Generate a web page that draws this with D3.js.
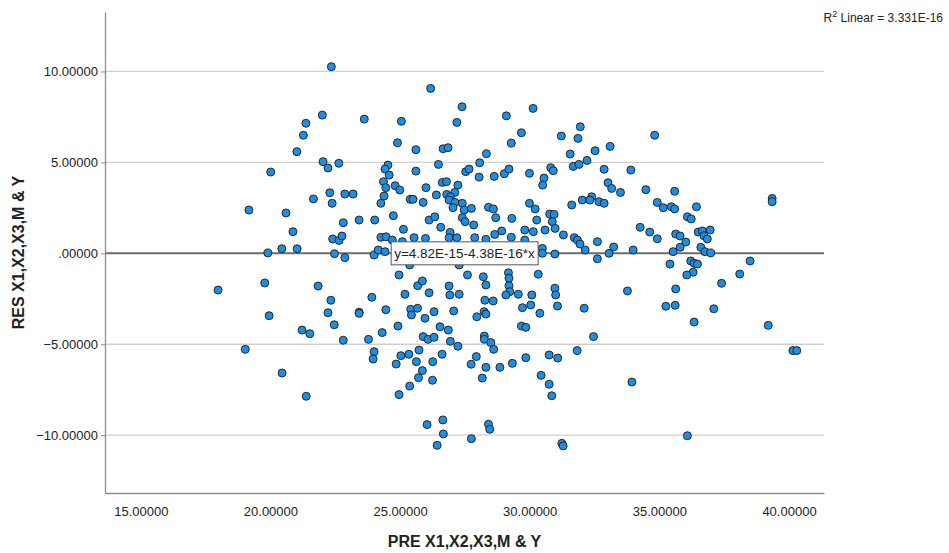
<!DOCTYPE html>
<html><head><meta charset="utf-8">
<script src="https://cdn.jsdelivr.net/npm/d3@7"></script>
<style>body{margin:0;background:#fff;} svg{display:block;font-family:"Liberation Sans",Arial,sans-serif;}</style>
</head><body><svg id="c" width="949" height="553"></svg>
<script>
const predicted = [
22.35,22.00,21.37,21.27,21.02,22.03,22.22,22.64,20.01,22.29,22.87,
23.62,26.18,27.39,25.05,27.19,24.90,25.61,26.66,26.85,29.10,
30.13,29.68,29.29,31.22,31.95,31.86,31.56,32.52,24.53,24.42,
24.58,24.36,24.45,24.38,24.81,24.99,23.19,25.61,26.00,26.48,
26.63,26.79,27.23,27.11,26.40,26.80,26.94,27.53,27.66,28.07,
28.33,28.05,28.63,29.02,29.20,29.99,30.81,30.91,30.55,30.50,
31.68,31.90,32.21,32.39,
33.10,34.82,32.87,33.90,33.02,33.16,33.50,34.48,35.59,
19.17,20.60,20.87,20.44,21.03,19.90,19.78,17.98,21.84,22.33,
22.22,21.66,22.38,22.81,22.40,22.65,22.76,22.47,22.87,
19.95,19.03,20.45,21.38,21.22,21.52,22.46,22.81,
24.26,25.39,25.50,25.89,26.89,27.12,27.40,29.99,30.21,31.62,
32.03,32.32,23.42,24.02,24.74,26.12,26.34,27.04,27.47,27.75,
28.41,28.60,28.69,29.31,30.27,30.77,30.94,30.87,27.40,27.51,
27.84,26.57,26.93,25.13,28.92,28.65,29.81,30.14,30.59,30.98,
31.30,31.72,31.84,31.94,32.14,24.26,24.46,24.70,25.09,25.54,
25.98,26.89,27.19,27.88,28.31,29.29,29.81,24.00,24.16,24.42,
30.49,30.49,30.97,
25.37,24.96,25.68,25.86,25.19,26.12,26.89,26.92,27.28,27.28,
27.60,28.21,28.31,29.18,29.20,29.20,29.23,29.08,29.56,30.08,
30.33,30.97,31.00,31.07,30.04,29.72,28.27,28.59,23.91,24.45,
23.42,25.41,26.31,25.67,32.10,
39.35,39.35,32.67,32.87,34.92,35.15,35.46,35.59,36.43,36.08,
36.23,34.26,34.63,34.92,35.63,35.80,36.02,35.80,35.53,36.50,
36.66,36.96,36.72,36.85,36.60,36.76,36.98,32.61,33.24,33.06,
33.99,32.61,35.41,36.21,36.34,36.47,38.50,36.30,36.06,38.10,
37.40,35.63,33.77,35.25,35.61,37.10,
23.42,25.44,25.96,27.07,27.96,28.24,28.31,30.39,24.92,24.31,
23.78,25.89,26.08,26.31,26.54,26.86,26.94,27.23,28.25,28.25,
28.50,28.61,29.68,29.85,32.46,24.00,23.96,25.03,25.34,24.85,
25.73,25.63,26.26,26.62,25.86,25.71,26.25,25.37,24.96,27.94,
27.74,28.31,28.85,29.33,29.85,28.17,30.75,31.08,31.83,30.44,
30.75,30.85,26.04,26.65,26.67,26.43,27.75,28.41,28.46,31.24,
31.29,
36.34,39.20,40.15,40.30,33.94,36.08
];
const residual = [
10.26,7.60,7.15,6.49,5.59,5.04,4.69,4.95,4.47,3.33,3.26,
7.38,9.07,8.06,7.26,7.20,6.08,5.70,5.75,5.81,7.56,
7.97,6.63,6.06,6.45,6.96,6.32,5.46,5.64,4.85,4.63,
4.30,3.94,3.61,3.15,3.72,3.48,3.26,4.52,3.61,4.89,
3.90,3.94,3.75,3.35,3.21,3.24,3.11,4.49,4.63,4.98,
5.48,4.19,4.23,4.38,4.63,4.40,4.71,4.54,4.14,3.75,
4.78,4.89,5.11,3.11,
5.88,6.49,4.62,4.58,3.88,3.57,3.35,3.50,3.41,
2.38,2.22,1.19,0.25,0.25,0.02,-1.63,-2.02,-1.80,-2.58,
-3.27,2.99,2.75,1.68,0.79,0.71,0.95,-0.02,-0.24,
-3.43,-5.28,-6.58,-7.86,-4.22,-4.42,-3.93,-4.78,
2.75,2.97,2.97,2.80,2.93,2.80,2.75,2.75,2.44,2.66,
2.93,2.93,1.83,1.83,2.07,1.83,2.01,2.51,2.38,2.47,
2.53,2.44,1.96,1.92,1.83,2.16,2.14,1.74,1.96,1.74,
1.56,1.43,1.15,1.32,1.23,1.04,1.28,1.19,1.28,1.37,
1.01,0.86,0.73,0.51,0.18,0.88,0.91,0.73,0.64,0.86,
0.82,0.86,0.86,0.86,0.77,0.88,0.73,-0.09,0.18,0.09,
0.27,0.00,-0.04,
-0.64,-1.19,-1.78,-1.52,-2.25,-2.17,-1.80,-2.29,-2.25,-0.64,
-1.19,-1.29,-1.74,-1.07,-1.37,-1.78,-2.11,-2.29,-2.25,-2.29,
-1.15,-1.92,-2.29,-2.90,-2.84,-2.99,-2.58,-2.62,-2.42,-3.10,
-3.24,-3.08,-3.21,-3.02,-3.02,
3.02,2.84,2.84,2.75,2.80,2.51,2.56,2.44,2.56,2.01,
1.89,1.43,1.17,0.80,1.06,0.95,0.62,0.33,0.09,1.17,
1.23,1.28,0.97,0.79,0.33,0.09,0.02,0.64,0.35,0.00,
0.18,-0.30,-0.59,-0.42,-0.55,-0.59,-0.42,-1.04,-1.19,-1.14,
-1.65,-1.96,-2.07,-2.91,-2.86,-3.05,
-3.30,-3.39,-3.57,-3.17,-3.49,-3.21,-3.34,-3.30,-4.00,-4.36,
-4.73,-4.58,-4.73,-4.62,-4.04,-4.22,-4.84,-5.11,-4.55,-4.73,
-4.91,-5.28,-4.00,-4.07,-4.58,-5.41,-5.81,-5.63,-5.55,-6.09,
-5.32,-5.96,-5.96,-5.55,-6.45,-6.84,-6.98,-7.30,-7.77,-5.68,
-6.10,-6.27,-6.27,-6.05,-5.74,-6.86,-5.59,-5.76,-5.35,-6.71,
-7.20,-7.83,-9.42,-9.16,-9.93,-10.56,-10.19,-9.40,-9.68,-10.45,
-10.59,
-3.78,-3.96,-5.35,-5.35,-7.08,-10.03
];
const xTicks = [15, 20, 25, 30, 35, 40];
const yTicks = [-10, -5, 0, 5, 10];
const xTitle = "PRE X1,X2,X3,M & Y";
const yTitle = "RES X1,X2,X3,M & Y";
const fitIntercept = 4.82e-15, fitSlope = -4.38e-16;
const fitLabel = "y=4.82E-15-4.38E-16*x";
const r2Value = "3.331E-16";

const W = 949, H = 553, m = {top: 12, right: 125, bottom: 60, left: 105};
const svg = d3.select("#c");
const x = d3.scaleLinear().domain([13.62, 41.35]).range([m.left, W - m.right]);
const y = d3.scaleLinear().domain([-13.18, 13.27]).range([H - m.bottom, m.top]);
const fmt = v => { let s = d3.format(".5f")(v); return s.replace(/^0\./, ".").replace(/^-0\./, "-."); };

// gridlines
svg.append("g").selectAll("line").data(yTicks).join("line")
  .attr("x1", m.left).attr("x2", W - m.right)
  .attr("y1", d => y(d)).attr("y2", d => y(d))
  .attr("stroke", "#cfcfcf").attr("stroke-width", 1.3);

// fit line
const xd = x.domain();
svg.append("line")
  .attr("x1", x(xd[0])).attr("x2", x(xd[1]))
  .attr("y1", y(fitIntercept + fitSlope * xd[0])).attr("y2", y(fitIntercept + fitSlope * xd[1]))
  .attr("stroke", "#6e6e6e").attr("stroke-width", 2);

// axes
const ya = svg.append("g").attr("transform", `translate(${m.left},0)`)
  .call(d3.axisLeft(y).tickValues(yTicks).tickFormat(fmt).tickSize(4).tickSizeOuter(0).tickPadding(3));
ya.select(".domain").attr("stroke", "#8c8c8c").attr("stroke-width", 1.3);
ya.selectAll(".tick line").attr("stroke", "#8c8c8c");
ya.selectAll("text").attr("fill", "#222").style("font-size", "13px").style("font-family", "Liberation Sans, Arial, sans-serif");

const xa = svg.append("g").attr("transform", `translate(0,${H - m.bottom})`)
  .call(d3.axisBottom(x).tickValues(xTicks).tickFormat(fmt).tickSize(0).tickSizeOuter(0).tickPadding(14));
xa.select(".domain").attr("stroke", "#8c8c8c").attr("stroke-width", 1.3);
xa.selectAll("text").attr("fill", "#222").style("font-size", "13px").style("font-family", "Liberation Sans, Arial, sans-serif");

// points
svg.append("g").selectAll("circle").data(predicted.map((p, i) => [p, residual[i]])).join("circle")
  .attr("cx", d => x(d[0])).attr("cy", d => y(d[1])).attr("r", 4)
  .attr("fill", "#1f8de0").attr("stroke", "#1a1a1a").attr("stroke-width", 0.9);

// equation label
const cx = (m.left + W - m.right) / 2;
const cxv = x.invert(cx);
const lg = svg.append("g").attr("transform", `translate(${cx},${y(fitIntercept + fitSlope * cxv)})`);
const rect = lg.append("rect");
const lt = lg.append("text").attr("text-anchor", "middle").attr("dy", "0.35em")
  .style("font-size", "13.5px").attr("fill", "#222").text(fitLabel);
const bb = lt.node().getBBox();
rect.attr("x", bb.x - 3).attr("y", -11.5).attr("width", bb.width + 6).attr("height", 23)
  .attr("fill", "#fff").attr("stroke", "#555").attr("stroke-width", 1);

// titles
svg.append("text").attr("x", cx).attr("y", 547).attr("text-anchor", "middle")
  .style("font-size", "16px").style("font-weight", "bold").attr("fill", "#222").text(xTitle);
svg.append("text").attr("transform", `translate(24,${(m.top + H - m.bottom) / 2}) rotate(-90)`)
  .attr("text-anchor", "middle").style("font-size", "16px").style("font-weight", "bold").attr("fill", "#222").text(yTitle);

// R2 annotation
const r2 = svg.append("text").attr("x", 943).attr("y", 22).attr("text-anchor", "end")
  .style("font-size", "12px").attr("fill", "#222");
r2.append("tspan").text("R");
r2.append("tspan").attr("dy", -5).style("font-size", "9px").text("2");
r2.append("tspan").attr("dy", 5).text(" Linear = " + r2Value);
</script></body></html>
